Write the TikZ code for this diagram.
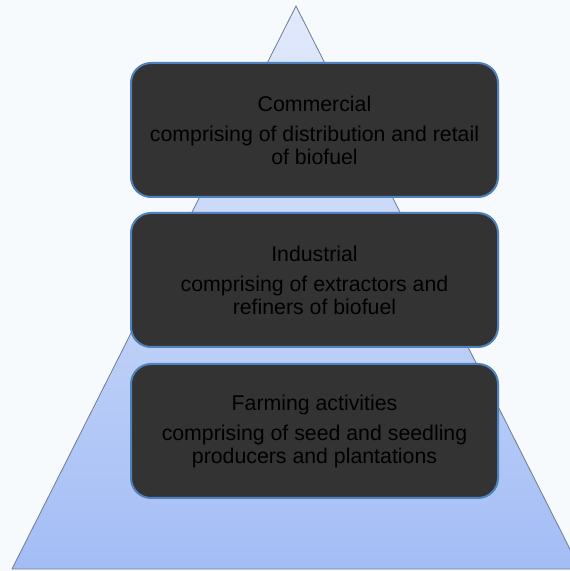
\documentclass[tikz,border=0pt]{standalone}
\usepackage{fontspec}
\setmainfont{Liberation Sans}
\usepackage{tikz}

\definecolor{pagebg}{HTML}{F7FAFC}
\definecolor{pyrtop}{HTML}{E2EAFB}
\definecolor{pyrbottom}{HTML}{A3BDF5}
\definecolor{pyredge}{HTML}{6F7A95}
\definecolor{tierfill}{HTML}{333333}
\definecolor{tieredge}{HTML}{4F81BD}

\tikzset{
  tier/.style={draw=tieredge, line width=2pt, fill=tierfill, rounded corners=20pt,
    minimum width=367pt, minimum height=134pt, align=center,
    font=\fontsize{21.3}{23}\selectfont, text=black}
}

\begin{document}
\begin{tikzpicture}[x=1pt,y=1pt]
\useasboundingbox (0,0) rectangle (570,571);
\fill[pagebg] (0,0) rectangle (570,571);

% pyramid
\shade[top color=pyrtop, bottom color=pyrbottom, draw=pyredge, line width=0.8pt]
  (296,565) -- (580,2) -- (12,2) -- cycle;

% tiers
\node[tier] (commercial) at (314.5,441) {Commercial\\[7pt]comprising of distribution and retail\\of biofuel};
\node[tier] (industrial) at (314.5,291) {Industrial\\[7pt]comprising of extractors and\\refiners of biofuel};
\node[tier] (farming) at (314.5,140) {Farming activities\\[7pt]comprising of seed and seedling\\producers and plantations};

\end{tikzpicture}
\end{document}
